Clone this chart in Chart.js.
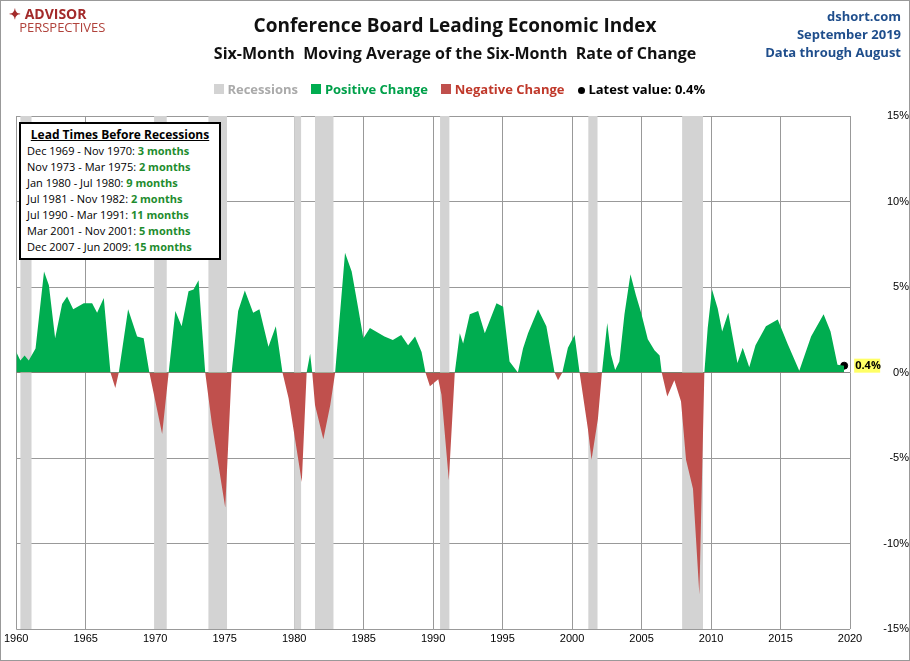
<!DOCTYPE html>
<html>
<head>
<meta charset="utf-8">
<script src="https://cdn.jsdelivr.net/npm/chart.js@4"></script>
<style>
  body { margin: 0; background: #fff; font-family: "Open Sans", "Liberation Sans", sans-serif; }
  #wrap { position: relative; width: 908px; height: 659px; border: 1px solid #999; }
  canvas { position: absolute; left: 0; top: 0; }
  .t { position: absolute; white-space: nowrap; }
  #lead { position: absolute; left: 18px; top: 121px; width: 186px; border: 2px solid #000; background: #fff; padding: 3px 6px; font-size: 11px; line-height: 16px; }
  #lead b.g { color: #1e8c2e; }
</style>
</head>
<body>
<div id="wrap">
  <canvas id="lei" width="908" height="659"></canvas>
  <div class="t" style="left:8px;top:6px;color:#a32a2a;font-weight:bold;font-size:14px;line-height:13px;">&#10022; ADVISOR<br><span style="font-weight:normal;font-size:13px;color:#b0413a;">&nbsp;&nbsp;&nbsp;PERSPECTIVES</span></div>
  <div class="t" style="left:0;width:908px;top:11px;text-align:center;font-weight:bold;font-size:19px;color:#111;">Conference Board Leading Economic Index</div>
  <div class="t" style="left:0;width:908px;top:41px;text-align:center;font-weight:bold;font-size:16px;color:#111;">Six-Month &nbsp;Moving Average of the Six-Month &nbsp;Rate of Change</div>
  <div class="t" style="right:8px;top:6px;text-align:right;font-weight:bold;font-size:13px;color:#1f4e8c;line-height:18px;">dshort.com<br>September 2019<br>Data through August</div>
  <div class="t" style="left:213px;top:79px;font-weight:bold;font-size:13px;">
    <span style="display:inline-block;width:10px;height:10px;background:#d3d3d3;"></span> <span style="color:#aaa;">Recessions</span>
    &nbsp;&nbsp;&nbsp;<span style="display:inline-block;width:10px;height:10px;background:#00ad50;"></span> <span style="color:#00a04a;">Positive Change</span>
    &nbsp;&nbsp;&nbsp;<span style="display:inline-block;width:10px;height:10px;background:#c0504d;"></span> <span style="color:#c0392b;">Negative Change</span>
    &nbsp;&nbsp;&nbsp;<span style="display:inline-block;width:7px;height:7px;border-radius:50%;background:#000;"></span> Latest value: 0.4%
  </div>
  <div id="lead"></div>
</div>
<script>
// recessions (decimal years)
const recStart = [1960.3, 1969.92, 1973.83, 1980.0, 1981.5, 1990.5, 2001.17, 2007.92];
const recEnd = [1961.1, 1970.83, 1975.17, 1980.5, 1982.83, 1991.17, 2001.83, 2009.42];

const leadRanges = ["Dec 1969 - Nov 1970", "Nov 1973 - Mar 1975", "Jan 1980 - Jul 1980", "Jul 1981 - Nov 1982",
  "Jul 1990 - Mar 1991", "Mar 2001 - Nov 2001", "Dec 2007 - Jun 2009"];
const leadMonths = ["3 months", "2 months", "9 months", "2 months", "11 months", "5 months", "15 months"];

// series
const years = [1960.0, 1960.3, 1960.6, 1960.9, 1961.39, 1962.0, 1962.35, 1962.8, 1963.3, 1963.66, 1964.1, 1964.86,
  1965.46, 1965.82, 1966.3, 1966.78, 1967.13, 1967.38, 1968.05, 1968.7, 1969.17, 1969.58, 1970.5, 1970.97,
  1971.45, 1971.9, 1972.4, 1972.76, 1973.12, 1973.6, 1974.08, 1975.04, 1975.5, 1975.97, 1976.45, 1977.05,
  1977.5, 1978.15, 1978.68, 1979.16, 1979.6, 1980.55, 1980.9, 1981.15, 1981.3, 1981.5, 1982.1, 1982.6,
  1982.95, 1983.66, 1984.14, 1984.6, 1984.98, 1985.45, 1986.5, 1987.1, 1987.7, 1988.2, 1988.7, 1989.17,
  1989.45, 1989.77, 1990.37, 1990.6, 1991.13, 1991.56, 1991.92, 1992.16, 1992.64, 1993.24, 1993.72, 1994.56,
  1995.04, 1995.5, 1996.1, 1996.47, 1996.83, 1997.55, 1998.15, 1998.74, 1998.99, 1999.3, 1999.7, 2000.18,
  2000.54, 2001.14, 2001.4, 2001.86, 2002.15, 2002.53, 2002.8, 2003.1, 2003.4, 2003.77, 2004.2, 2004.6,
  2004.97, 2005.45, 2005.93, 2006.3, 2006.45, 2006.85, 2007.36, 2007.84, 2008.2, 2008.7, 2009.16, 2009.52,
  2009.76, 2010.07, 2010.48, 2010.8, 2011.24, 2011.55, 2011.9, 2012.28, 2012.75, 2013.2, 2013.95, 2014.8,
  2015.5, 2016.35, 2017.2, 2018.1, 2018.6, 2019.1, 2019.58];
const values = [1.2, 0.7, 1.0, 0.7, 1.4, 5.9, 5.1, 2.0, 4.0, 4.45, 3.7, 4.05,
  4.05, 3.5, 4.35, 0, -0.9, 0, 3.7, 2.1, 2.0, 0, -3.6, 0,
  3.6, 2.7, 4.75, 4.85, 5.4, 0, -3.0, -7.9, 0, 3.6, 4.8, 3.5,
  3.7, 1.5, 2.7, 0, -1.5, -6.4, 0, 1.1, 0, -1.9, -3.9, -1.9,
  0, 7.0, 5.9, 3.8, 2.0, 2.6, 2.1, 1.9, 2.2, 1.6, 2.1, 1.2,
  0, -0.8, -0.4, -1.3, -6.3, 0, 2.3, 1.7, 3.4, 3.6, 2.3, 4.05,
  3.85, 0.65, 0, 1.4, 2.3, 3.7, 2.7, 0, -0.45, 0, 1.45, 2.2,
  0, -3.3, -5.1, -2.7, 0, 2.9, 1.05, 0.15, 0.65, 3.4, 5.75, 4.5,
  3.5, 1.95, 1.3, 1.0, 0, -1.4, -0.45, -1.7, -5.1, -6.8, -13.0, 0,
  2.6, 4.85, 3.75, 2.4, 3.5, 2.1, 0.55, 1.45, 0.3, 1.6, 2.7, 3.1,
  1.7, 0.1, 2.1, 3.4, 2.4, 0.45, 0.4];

document.getElementById("lead").innerHTML =
  '<div style="font-weight:bold;font-size:12px;text-decoration:underline;text-align:center;">Lead Times Before Recessions</div>' +
  leadRanges.map((r, i) => r + ': <b class="g">' + leadMonths[i] + '</b>').join("<br>");

const recessionBands = {
  id: "recessionBands",
  beforeDatasetsDraw(chart) {
    const { ctx, chartArea, scales } = chart;
    ctx.save();
    ctx.fillStyle = "#d3d3d3";
    for (let i = 0; i < recStart.length; i++) {
      const a = scales.x.getPixelForValue(recStart[i]);
      const b = scales.x.getPixelForValue(recEnd[i]);
      ctx.fillRect(a, chartArea.top, b - a, chartArea.bottom - chartArea.top);
    }
    ctx.restore();
  },
  afterDatasetsDraw(chart) {
    const { ctx, scales } = chart;
    const last = values.length - 1;
    const x = scales.x.getPixelForValue(years[last]) + 10;
    const y = scales.y.getPixelForValue(values[last]);
    ctx.save();
    ctx.font = "bold 11px 'Open Sans', sans-serif";
    ctx.fillStyle = "#ffff66";
    ctx.fillRect(x, y - 7, 26, 14);
    ctx.fillStyle = "#000";
    ctx.textBaseline = "middle";
    ctx.fillText(values[last] + "%", x + 1, y);
    ctx.restore();
  }
};

new Chart(document.getElementById("lei"), {
  type: "line",
  data: {
    datasets: [
      {
        data: years.map((t, i) => ({ x: t, y: values[i] })),
        borderWidth: 0,
        pointRadius: 0,
        fill: { target: "origin", above: "#00ad50", below: "#c0504d" },
        tension: 0,
      },
      {
        data: [{ x: years[years.length - 1], y: values[values.length - 1] }],
        pointRadius: 3.5,
        pointBackgroundColor: "#000",
        pointBorderColor: "#000",
        showLine: false,
      },
    ],
  },
  options: {
    responsive: false,
    animation: false,
    layout: { padding: { top: 115, left: 11, right: 0, bottom: 0 } },
    plugins: { legend: { display: false }, tooltip: { enabled: false } },
    scales: {
      x: {
        type: "linear",
        min: 1960,
        max: 2020,
        afterFit: (s) => { s.height = 31; },
        ticks: { stepSize: 5, callback: (v) => v, color: "#000", font: { size: 11 } },
        grid: { color: "#999", drawTicks: false },
        border: { display: false },
      },
      y: {
        position: "right",
        min: -15,
        max: 15,
        afterFit: (s) => { s.width = 59; },
        ticks: { stepSize: 5, callback: (v) => v + "%", color: "#000", font: { size: 11 }, padding: 10, crossAlign: "far" },
        grid: { color: (c) => (c.tick.value === 0 ? "#888" : "#999"), drawTicks: false },
        border: { display: false },
      },
    },
  },
  plugins: [recessionBands],
});
</script>
</body>
</html>
